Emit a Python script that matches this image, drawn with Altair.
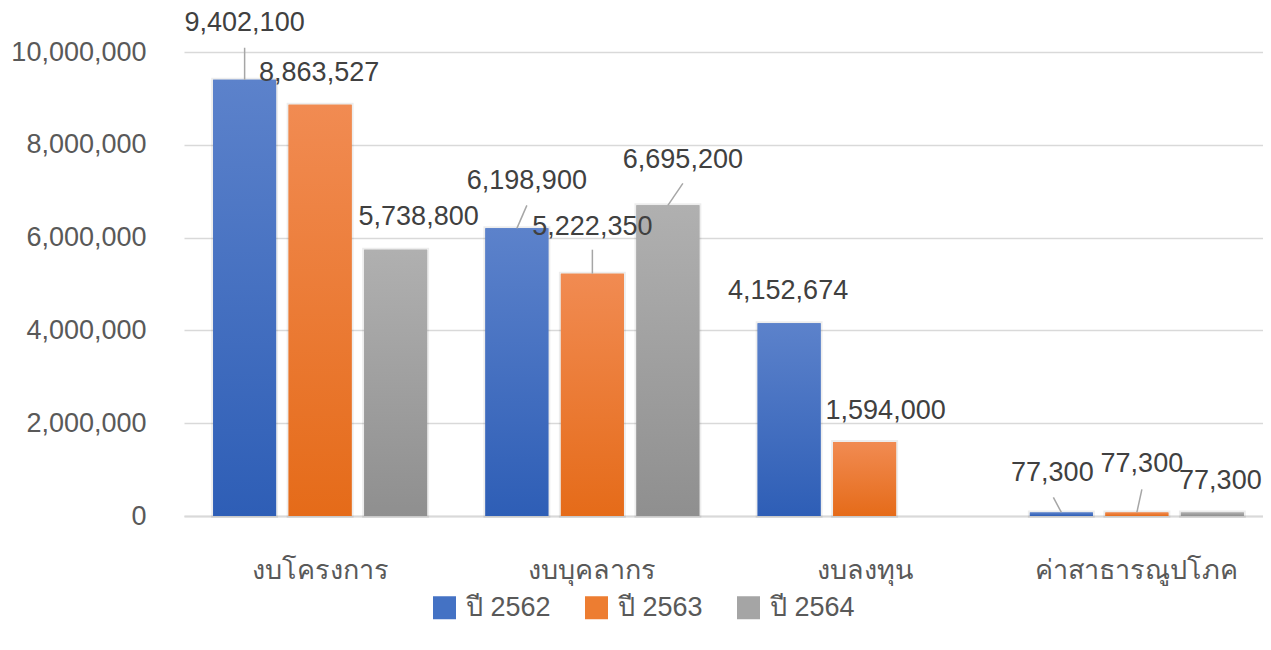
import altair as alt
import pandas as pd

categories = ["งบโครงการ", "งบบุคลากร", "งบลงทุน", "ค่าสาธารณูปโภค"]
series_names = ["ปี 2562", "ปี 2563", "ปี 2564"]
values_2562 = [9402100, 6198900, 4152674, 77300]
values_2563 = [8863527, 5222350, 1594000, 77300]
values_2564 = [5738800, 6695200, None, 77300]
y_ticks = [0, 2000000, 4000000, 6000000, 8000000, 10000000]

# label nudges (px) of the label centre from the bar-top centre
nudge_2562 = [(0, -57), (10, -47), (-1, -32), (-9, -39)]
nudge_2563 = [(-1, -32), (0, -47), (21, -31), (5, -48)]
nudge_2564 = [(23, -33), (15, -45), (0, 0), (8, -31)]
# leader line end (px) relative to bar-top centre; None = no leader line
leader_2562 = [(0, -32), (10, -23), None, (-8, -15)]
leader_2563 = [None, (0, -24), None, (5, -23)]
leader_2564 = [None, (15, -22), None, None]

FONT = "Liberation Sans, Noto Sans, sans-serif"
solid = ["#4472C4", "#ED7D31", "#A5A5A5"]
grad_top = ["#5C82CB", "#F18B52", "#B0B0B0"]
grad_bot = ["#2E5EB6", "#E56B19", "#8F8F8F"]

rows = []
for s, vals, nud, lead in zip(series_names,
                              [values_2562, values_2563, values_2564],
                              [nudge_2562, nudge_2563, nudge_2564],
                              [leader_2562, leader_2563, leader_2564]):
    for c, v, n, l in zip(categories, vals, nud, lead):
        if v is None:
            continue
        rows.append({
            "category": c, "series": s, "value": v,
            "ndx": n[0], "ndy": n[1],
            "lead": l is not None,
            "lx": l[0] if l else 0, "ly": l[1] if l else 0,
        })
df = pd.DataFrame(rows)

x_enc = alt.X("category:N", sort=categories,
              scale=alt.Scale(domain=categories, paddingInner=0.214,
                              paddingOuter=0.107, range=[0, 1089]),
              axis=alt.Axis(title=None, labelAngle=0, labelFontSize=27,
                            labelColor="#595959", labelFont=FONT,
                            labelPadding=54, labelBaseline="middle",
                            labelLimit=500,
                            ticks=False, domainColor="#D9D9D9",
                            domainWidth=2, grid=False))
xo_enc = alt.XOffset("series:N",
                     scale=alt.Scale(domain=series_names, paddingInner=0.166,
                                     paddingOuter=0))
y_enc = alt.Y("value:Q",
              scale=alt.Scale(domain=[0, 10000000], nice=False),
              axis=alt.Axis(title=None, values=y_ticks,
                            labelExpr="format(datum.value, ',')",
                            labelFontSize=27, labelColor="#595959",
                            labelFont=FONT, labelPadding=38, ticks=False,
                            labelLimit=500,
                            domain=False, grid=True, gridColor="#D9D9D9",
                            gridWidth=1.5))

base = alt.Chart(df)

shadow = base.mark_bar(
    fillOpacity=0, stroke="#000000", strokeWidth=4, strokeOpacity=0.07,
).encode(x=x_enc, xOffset=xo_enc, y=y_enc)

bars = base.mark_bar().encode(
    x=x_enc, xOffset=xo_enc, y=y_enc,
    color=alt.Color("series:N",
                    scale=alt.Scale(domain=series_names, range=solid),
                    legend=alt.Legend(orient="none", legendX=247, legendY=542,
                                      direction="horizontal", title=None,
                                      symbolType="square", symbolSize=529,
                                      symbolStrokeWidth=0, labelFontSize=27,
                                      labelColor="#595959", labelFont=FONT,
                                      columnPadding=32, labelOffset=8,
                                      labelLimit=500, padding=0)),
)

grad_layers = []
for s, t, b in zip(series_names, grad_top, grad_bot):
    g = alt.LinearGradient(gradient="linear",
                           stops=[alt.GradientStop(color=t, offset=0),
                                  alt.GradientStop(color=b, offset=1)],
                           x1=0, x2=0, y1=0, y2=1)
    grad_layers.append(
        base.transform_filter(alt.datum.series == s)
        .mark_bar(color=g)
        .encode(x=x_enc, xOffset=xo_enc, y=y_enc)
    )

x2_expr = ("scale('x', datum.category) + scale('xOffset', datum.series)"
           " + bandwidth('xOffset') / 2 + datum.lx")
y2_expr = "scale('y', datum.value) + datum.ly"
leaders = base.transform_filter("datum.lead").mark_rule(
    color="#A6A6A6", strokeWidth=1.5,
).encode(x=x_enc, xOffset=xo_enc, y=y_enc,
         x2=alt.value({"expr": x2_expr}),
         y2=alt.value({"expr": y2_expr}))

labels = base.transform_calculate(
    label="format(datum.value, ',')"
).mark_text(
    fontSize=27, font=FONT, color="#404040", baseline="middle",
    align="center",
    dx=alt.ExprRef(expr="datum.ndx"), dy=alt.ExprRef(expr="datum.ndy"),
).encode(x=x_enc, xOffset=xo_enc, y=y_enc, text="label:N")

frame = alt.Chart(pd.DataFrame({"a": [0]})).mark_rule(
    color="#D9D9D9", strokeWidth=2
).encode(x=alt.value(-177), y=alt.value(-52), y2=alt.value(600))

chart = alt.layer(shadow, bars, *grad_layers, leaders, labels, frame).properties(
    width=1079, height=464,
    padding={"left": 176, "top": 44, "right": 0, "bottom": 128},
    autosize=alt.AutoSizeParams(type="none"),
    background="white",
).configure_view(stroke=None)

chart.save("out.html", embed_options={"renderer": "svg", "actions": False})
